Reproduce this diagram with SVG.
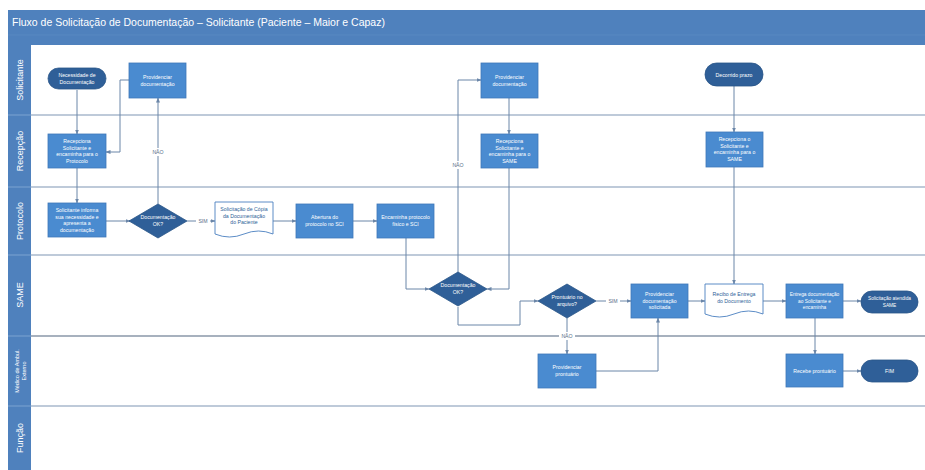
<svg xmlns="http://www.w3.org/2000/svg" width="925" height="470" viewBox="0 0 925 470">
<defs>
<marker id="ah" viewBox="0 0 10 10" refX="9" refY="5" markerWidth="5" markerHeight="5" orient="auto"><path d="M0,1 L10,5 L0,9 z" fill="#6b86a8"/></marker>
<style>
.lane{stroke:#a9b8cc;stroke-width:1.6}
.hdr{fill:#4f81bd}
.ll{fill:#ffffff;font-family:"Liberation Sans",Arial,sans-serif;font-size:9px;text-anchor:middle;dominant-baseline:central}
.pr{fill:#4a8bd0;stroke:#3f78b8;stroke-width:0.8}
.dk{fill:#2f5f98;stroke:#2a5588;stroke-width:0.8}
.doc{fill:#ffffff;stroke:#4a7fbf;stroke-width:0.9}
.t{fill:#ffffff;font-family:"Liberation Sans",Arial,sans-serif;font-size:5.2px;text-anchor:middle}
.td{fill:#2f5f98;font-family:"Liberation Sans",Arial,sans-serif;font-size:5.2px;text-anchor:middle}
.c{fill:none;stroke:#6b86a8;stroke-width:1}
.cl{fill:#5a6f88;font-family:"Liberation Sans",Arial,sans-serif;font-size:5.2px;text-anchor:middle;dominant-baseline:central}
</style>
</defs>
<rect width="925" height="470" fill="#ffffff"/>
<g id="pool">
<rect class="hdr" x="8" y="10" width="917" height="35"/>
<line x1="8" y1="35" x2="925" y2="35" stroke="#5a8ac3" stroke-width="0.8"/>
<text x="12" y="26" fill="#ffffff" font-family="Liberation Sans,Arial,sans-serif" font-size="10.5">Fluxo de Solicitação de Documentação – Solicitante (Paciente – Maior e Capaz)</text>
<rect class="hdr" x="8" y="45" width="23" height="425"/>
<line class="lane" x1="31" y1="115" x2="925" y2="115"/>
<line class="lane" x1="31" y1="187" x2="925" y2="187"/>
<line class="lane" x1="31" y1="255" x2="925" y2="255"/>
<line x1="31" y1="336" x2="925" y2="336" stroke="#8a97a8" stroke-width="1.6"/>
<line class="lane" x1="31" y1="406" x2="925" y2="406"/>
<line x1="8" y1="115" x2="31" y2="115" stroke="#7da3d1" stroke-width="1"/>
<line x1="8" y1="187" x2="31" y2="187" stroke="#7da3d1" stroke-width="1"/>
<line x1="8" y1="255" x2="31" y2="255" stroke="#7da3d1" stroke-width="1"/>
<line x1="8" y1="336" x2="31" y2="336" stroke="#7da3d1" stroke-width="1"/>
<line x1="8" y1="406" x2="31" y2="406" stroke="#7da3d1" stroke-width="1"/>
<text class="ll" transform="translate(20,80) rotate(-90)">Solicitante</text>
<text class="ll" transform="translate(20,151) rotate(-90)">Recepção</text>
<text class="ll" transform="translate(20,221) rotate(-90)">Protocolo</text>
<text class="ll" transform="translate(20,295) rotate(-90)">SAME</text>
<text class="ll" transform="translate(20,371) rotate(-90)" style="font-size:5.5px"><tspan x="0" dy="-3">Médico de Ambul.</tspan><tspan x="0" dy="6.5">Externo</tspan></text>
<text class="ll" transform="translate(20,438) rotate(-90)">Função</text>
</g>
<g id="connectors">
<path class="c" d="M77,90 V134" marker-end="url(#ah)"/>
<path class="c" d="M129,80 H120 V152 H106" marker-end="url(#ah)"/>
<path class="c" d="M77,168 V203" marker-end="url(#ah)"/>
<path class="c" d="M106,221 H130" marker-end="url(#ah)"/>
<path class="c" d="M158,204 V98" marker-end="url(#ah)"/>
<path class="c" d="M187,221 H215" marker-end="url(#ah)"/>
<path class="c" d="M273,221 H296" marker-end="url(#ah)"/>
<path class="c" d="M353,221 H377" marker-end="url(#ah)"/>
<path class="c" d="M406,238 V289 H429" marker-end="url(#ah)"/>
<path class="c" d="M458,273 V80 H481" marker-end="url(#ah)"/>
<path class="c" d="M509,98 V134" marker-end="url(#ah)"/>
<path class="c" d="M509,168 V289 H487" marker-end="url(#ah)"/>
<path class="c" d="M458,307 V325 H520 V301 H538" marker-end="url(#ah)"/>
<path class="c" d="M596,301 H631" marker-end="url(#ah)"/>
<path class="c" d="M567,318 V354" marker-end="url(#ah)"/>
<path class="c" d="M596,371 H658 V318" marker-end="url(#ah)"/>
<path class="c" d="M734,86 V132" marker-end="url(#ah)"/>
<path class="c" d="M734,167 V284" marker-end="url(#ah)"/>
<path class="c" d="M688,301 H705" marker-end="url(#ah)"/>
<path class="c" d="M763,301 H786" marker-end="url(#ah)"/>
<path class="c" d="M843,301 H861" marker-end="url(#ah)"/>
<path class="c" d="M815,318 V354" marker-end="url(#ah)"/>
<path class="c" d="M843,371 H861" marker-end="url(#ah)"/>
<rect x="150" y="148" width="16" height="8" fill="#ffffff"/>
<text class="cl" x="158" y="152">NÃO</text>
<rect x="196" y="217" width="14" height="8" fill="#ffffff"/>
<text class="cl" x="203" y="221">SIM</text>
<rect x="450" y="161" width="16" height="8" fill="#ffffff"/>
<text class="cl" x="458" y="165">NÃO</text>
<rect x="606" y="297" width="14" height="8" fill="#ffffff"/>
<text class="cl" x="613" y="301">SIM</text>
<rect x="559" y="332" width="16" height="8" fill="#ffffff"/>
<text class="cl" x="567" y="336">NÃO</text>
</g>
<g id="n1"><rect class="dk" x="48" y="68" width="58" height="21" rx="10.5"/><text class="t" x="77" y="77"><tspan x="77">Necessidade de</tspan><tspan x="77" dy="6.5">Documentação</tspan></text></g>
<g id="n2"><rect class="pr" x="129" y="63" width="57" height="35"/><text class="t" x="157.5" y="79"><tspan x="157.5">Providenciar</tspan><tspan x="157.5" dy="6.5">documentação</tspan></text></g>
<g id="n3"><rect class="pr" x="48" y="134" width="58" height="34"/><text class="t" x="77" y="143"><tspan x="77">Recepciona</tspan><tspan x="77" dy="6.5">Solicitante e</tspan><tspan x="77" dy="6.5">encaminha para o</tspan><tspan x="77" dy="6.5">Protocolo</tspan></text></g>
<g id="n4"><rect class="pr" x="48" y="203" width="58" height="34"/><text class="t" x="77" y="212"><tspan x="77">Solicitante informa</tspan><tspan x="77" dy="6.5">sua necessidade e</tspan><tspan x="77" dy="6.5">apresenta a</tspan><tspan x="77" dy="6.5">documentação</tspan></text></g>
<g id="n5"><path class="dk" d="M158,204 L187,221 L158,238 L129,221 Z"/><text class="t" x="158" y="219"><tspan x="158">Documentação</tspan><tspan x="158" dy="6.5">OK?</tspan></text></g>
<g id="n6"><path class="doc" d="M215,202 H273 V234 Q258.5,228 244,234 T215,234 Z"/><text class="td" x="244" y="211"><tspan x="244">Solicitação de Cópia</tspan><tspan x="244" dy="6.5">da Documentação</tspan><tspan x="244" dy="6.5">do Paciente</tspan></text></g>
<g id="n7"><rect class="pr" x="296" y="204" width="57" height="34"/><text class="t" x="324.5" y="219"><tspan x="324.5">Abertura do</tspan><tspan x="324.5" dy="6.5">protocolo no SCI</tspan></text></g>
<g id="n8"><rect class="pr" x="377" y="204" width="57" height="34"/><text class="t" x="405.5" y="219"><tspan x="405.5">Encaminha protocolo</tspan><tspan x="405.5" dy="6.5">físico e SCI</tspan></text></g>
<g id="n9"><rect class="pr" x="481" y="63" width="57" height="35"/><text class="t" x="509.5" y="79"><tspan x="509.5">Providenciar</tspan><tspan x="509.5" dy="6.5">documentação</tspan></text></g>
<g id="n10"><rect class="pr" x="481" y="134" width="57" height="34"/><text class="t" x="509.5" y="143"><tspan x="509.5">Recepciona</tspan><tspan x="509.5" dy="6.5">Solicitante e</tspan><tspan x="509.5" dy="6.5">encaminha para o</tspan><tspan x="509.5" dy="6.5">SAME</tspan></text></g>
<g id="n11"><path class="dk" d="M458,272 L487,289 L458,306 L429,289 Z"/><text class="t" x="458" y="287"><tspan x="458">Documentação</tspan><tspan x="458" dy="6.5">OK?</tspan></text></g>
<g id="n12"><path class="dk" d="M567,284 L596,301 L567,318 L538,301 Z"/><text class="t" x="567" y="299"><tspan x="567">Prontuário no</tspan><tspan x="567" dy="6.5">arquivo?</tspan></text></g>
<g id="n13"><rect class="pr" x="631" y="284" width="57" height="34"/><text class="t" x="659.5" y="296"><tspan x="659.5">Providenciar</tspan><tspan x="659.5" dy="6.5">documentação</tspan><tspan x="659.5" dy="6.5">solicitada</tspan></text></g>
<g id="n14"><rect class="pr" x="538" y="354" width="58" height="34"/><text class="t" x="567" y="369"><tspan x="567">Providenciar</tspan><tspan x="567" dy="6.5">prontuário</tspan></text></g>
<g id="n15"><rect class="dk" x="705" y="63" width="58" height="23" rx="11.5"/><text class="t" x="734" y="76.5">Decorrido prazo</text></g>
<g id="n16"><rect class="pr" x="706" y="132" width="57" height="35"/><text class="t" x="734.5" y="141"><tspan x="734.5">Recepciona o</tspan><tspan x="734.5" dy="6.5">Solicitante e</tspan><tspan x="734.5" dy="6.5">encaminha para o</tspan><tspan x="734.5" dy="6.5">SAME</tspan></text></g>
<g id="n17"><path class="doc" d="M705,284 H763 V314 Q748.5,308 734,314 T705,314 Z"/><text class="td" x="734" y="296"><tspan x="734">Recibo de Entrega</tspan><tspan x="734" dy="6.5">do Documento</tspan></text></g>
<g id="n18"><rect class="pr" x="786" y="284" width="57" height="34"/><text class="t" x="814.5" y="296" style="font-size:4.8px"><tspan x="814.5">Entrega documentação</tspan><tspan x="814.5" dy="6.5">ao Solicitante e</tspan><tspan x="814.5" dy="6.5">encaminha</tspan></text></g>
<g id="n19"><rect class="dk" x="861" y="291" width="57" height="22" rx="11"/><text class="t" x="889.5" y="300" style="font-size:4.8px"><tspan x="889.5">Solicitação atendida</tspan><tspan x="889.5" dy="6.5">SAME</tspan></text></g>
<g id="n20"><rect class="pr" x="786" y="354" width="57" height="33"/><text class="t" x="814.5" y="372.5">Recebe prontuário</text></g>
<g id="n21"><rect class="dk" x="861" y="360" width="57" height="22" rx="11"/><text class="t" x="889.5" y="373">FIM</text></g>
</svg>
